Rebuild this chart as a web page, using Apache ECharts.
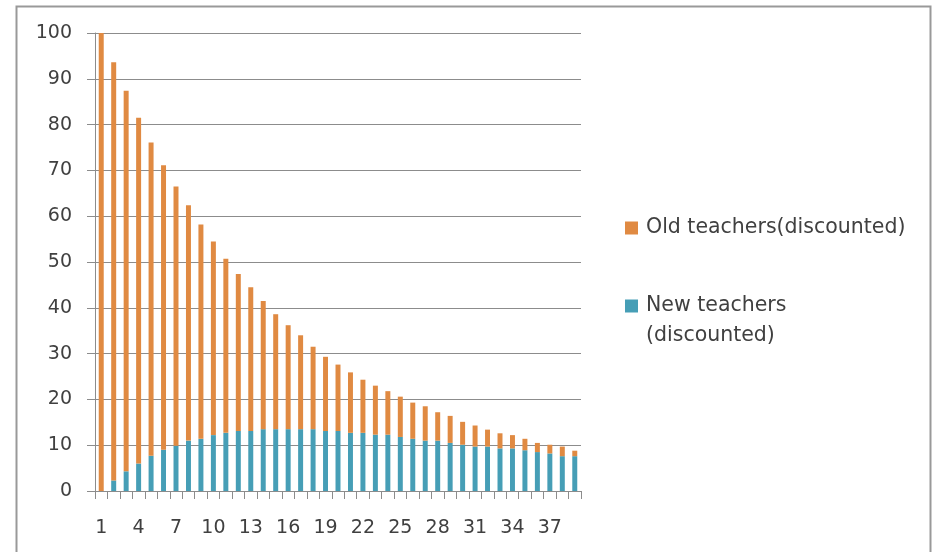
<!DOCTYPE html>
<html>
<head>
<meta charset="utf-8">
<script src="https://cdn.jsdelivr.net/npm/echarts@6/dist/echarts.min.js"></script>
<style>
html,body{margin:0;padding:0;background:#fff;}
#chart{width:934px;height:552px;}
</style>
</head>
<body>
<div id="chart"></div>
<script>
var categories = ['1','2','3','4','5','6','7','8','9','10','11','12','13','14','15','16','17','18','19','20','21','22','23','24','25','26','27','28','29','30','31','32','33','34','35','36','37','38','39'];
var newTeachers = [0,2.3,4.3,6.0,7.7,9.0,9.9,11.0,11.4,12.2,12.7,13.1,13.1,13.5,13.5,13.5,13.5,13.5,13.1,13.1,12.7,12.7,12.3,12.3,11.8,11.4,11.0,11.0,10.5,10.1,9.7,9.7,9.3,9.3,8.9,8.5,8.2,7.6,7.6];
var oldTeachers = [100,91.3,83.1,75.5,68.4,62.1,56.6,51.4,46.8,42.3,38.0,34.3,31.4,28.0,25.1,22.7,20.5,18.0,16.2,14.5,13.2,11.6,10.7,9.5,8.8,7.9,7.5,6.2,5.9,5.0,4.6,3.7,3.3,2.9,2.5,2.0,1.9,2.1,1.2];
var seriesNames = ['Old teachers(discounted)', 'New teachers (discounted)'];
var legendLabels = {
  'Old teachers(discounted)': 'Old teachers(discounted)',
  'New teachers (discounted)': ' \nNew teachers\n(discounted)'
};

var FONT = 'DejaVu Sans';
var TXT = '#404040';
var chart = echarts.init(document.getElementById('chart'), null, {renderer:'canvas'});
chart.setOption({
  animation: false,
  backgroundColor: '#fff',
  textStyle: {fontFamily: FONT},
  graphic: [{
    type: 'rect',
    shape: {x: 16.5, y: 6.5, width: 914, height: 580},
    style: {fill: 'none', stroke: '#999', lineWidth: 2},
    silent: true
  }],
  grid: {left: 95, right: 353, top: 33, bottom: 61, containLabel: false},
  legend: {
    orient: 'vertical',
    left: 620,
    top: 208,
    itemWidth: 13,
    itemHeight: 13,
    itemGap: 18,
    icon: 'rect',
    formatter: function (name) { return legendLabels[name]; },
    textStyle: {fontFamily: FONT, fontSize: 20.5, color: TXT, lineHeight: 30, padding: [0, 0, 0, 3]},
    data: [seriesNames[0], seriesNames[1]]
  },
  xAxis: {
    type: 'category',
    data: categories,
    boundaryGap: true,
    axisLine: {show: true, lineStyle: {color: '#8c8c8c', width: 1}},
    axisTick: {show: true, length: 8, interval: 0, lineStyle: {color: '#8c8c8c'}},
    axisLabel: {interval: 2, margin: 28, fontFamily: FONT, fontSize: 19, color: TXT},
    splitLine: {show: false}
  },
  yAxis: {
    type: 'value',
    min: 0, max: 100, interval: 10,
    axisLine: {show: true, lineStyle: {color: '#8c8c8c', width: 1}},
    axisTick: {show: true, length: 8, lineStyle: {color: '#8c8c8c'}},
    axisLabel: {margin: 23, fontFamily: FONT, fontSize: 19, color: TXT},
    splitLine: {show: true, lineStyle: {color: '#8c8c8c', width: 1}}
  },
  series: [
    {
      name: seriesNames[1], type: 'bar', stack: 'total', data: newTeachers,
      barWidth: '40%', itemStyle: {color: '#469EB6'}
    },
    {
      name: seriesNames[0], type: 'bar', stack: 'total', data: oldTeachers,
      barWidth: '40%', itemStyle: {color: '#E08A42'}
    }
  ]
});
</script>
</body>
</html>
